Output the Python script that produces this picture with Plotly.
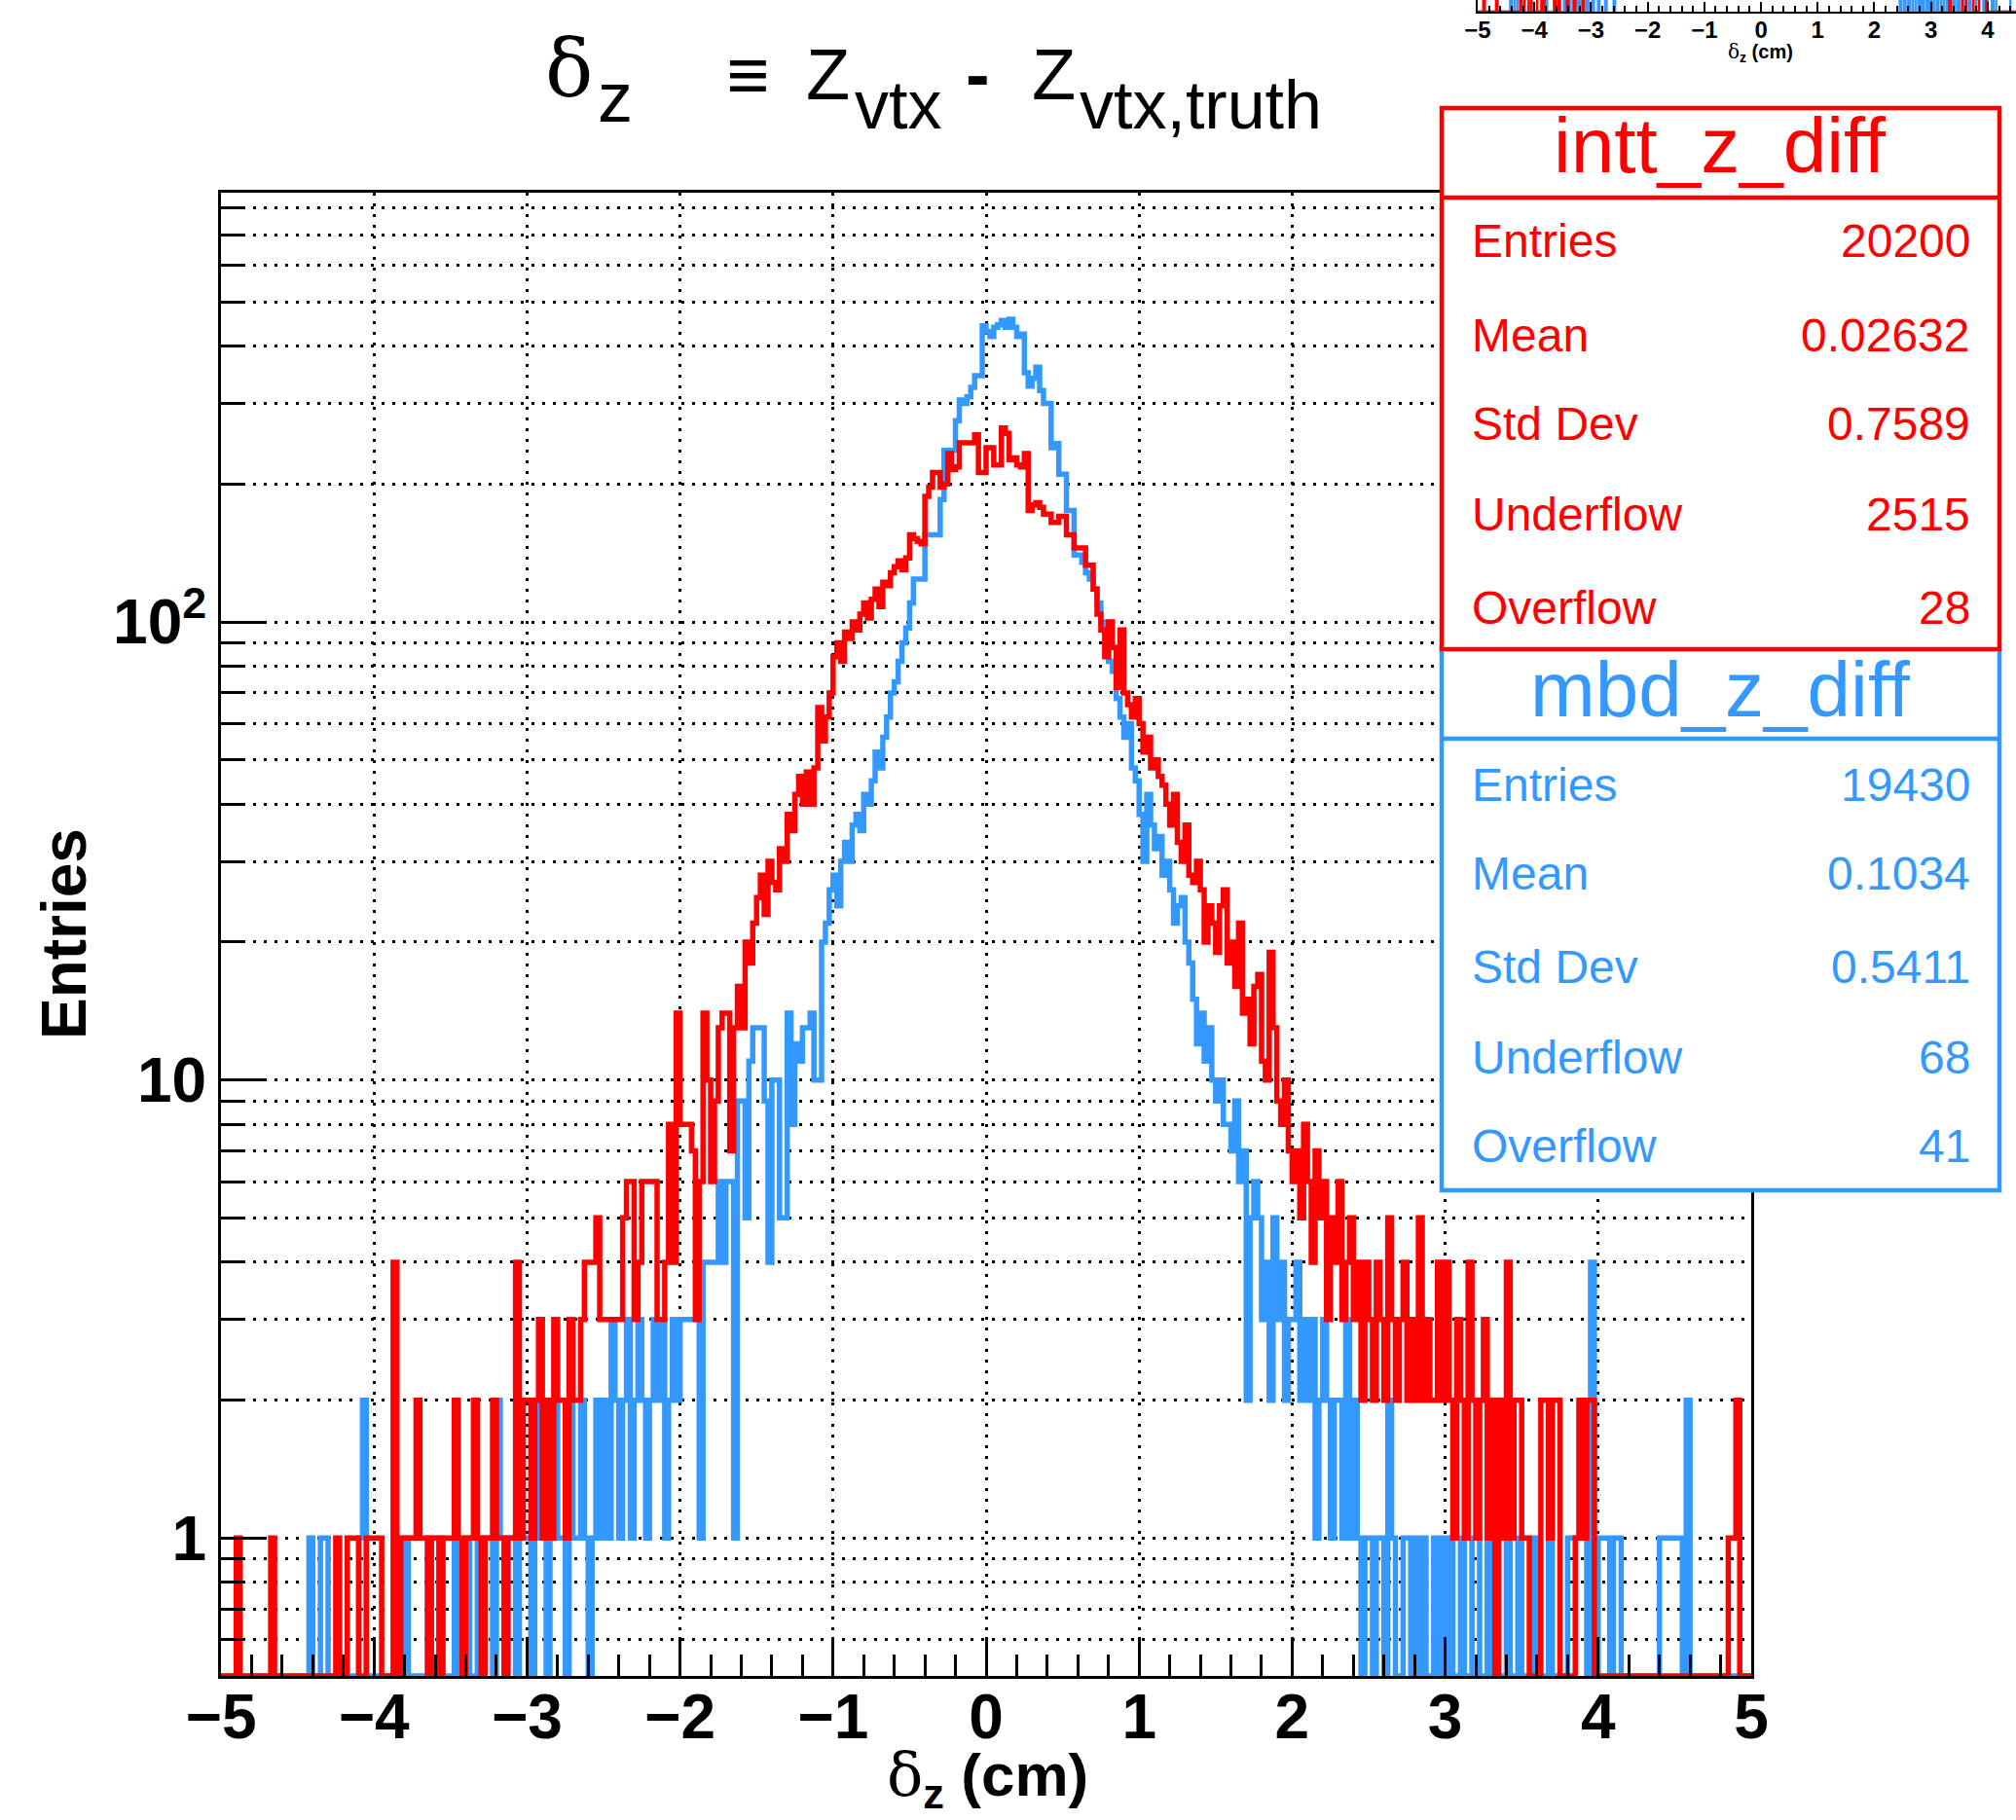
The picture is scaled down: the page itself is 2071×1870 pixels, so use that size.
import math
import plotly.graph_objects as go

# ---------------- data ----------------
NBINS = 400
X_MIN, X_MAX = -5.0, 5.0

# intt_z_diff bin contents (20 bins per 0.5 cm, from -5 to 5)
intt_counts = (
    [0,0,0,0,1,0,0,0,0,0,0,0,0,1,0,0,0,0,0,0] +          # -5.0 .. -4.5
    [0,0,0,0,0,0,0,0,0,0,1,0,0,1,1,1,0,0,1,1] +          # -4.5 .. -4.0
    [1,1,0,0,0,4,0,1,1,1,1,2,1,1,0,1,1,0,1,1] +          # -4.0 .. -3.5
    [1,2,1,0,1,1,2,1,0,1,1,2,1,1,0,1,1,4,1,2] +          # -3.5 .. -3.0
    [2,1,2,3,1,2,1,3,2,2,1,3,2,2,3,4,4,4,5,3] +          # -3.0 .. -2.5
    [3,3,3,3,3,5,6,6,3,4,6,6,6,6,3,3,4,8,4,14] +         # -2.5 .. -2.0
    [8,8,8,7,3,6,14,10,6,9,13,14,14,7,13,16,13,20,18,22] +   # -2.0 .. -1.5
    [25,28,23,30,27,26,32,30,38,35,42,46,40,47,40,48,65,55,62,70] +  # -1.5 .. -1.0
    [84,90,82,95,92,100,96,104,110,102,112,118,108,122,120,128,132,136,130,138] +
    [155,152,150,148,188,197,212,212,197,200,233,215,218,246,246,246,246,256,212,212] +
    [240,240,220,220,265,258,226,228,220,218,233,175,180,182,178,172,172,165,165,170] +
    [170,155,155,145,145,145,133,133,118,104,96,84,100,88,72,96,70,66,62,68] +
    [60,52,56,48,50,46,44,40,36,42,33,30,36,28,27,30,26,20,24,22] +
    [19,24,26,18,20,16,22,14,15,12,16,17,11,10,19,13,9,8,10,7] +
    [6,7,5,8,6,4,7,5,6,3,5,4,6,3,4,5,3,4,2,4] +
    [3,2,4,3,2,5,3,2,3,4,2,3,2,5,2,3,2,2,4,2] +
    [4,2,1,3,2,1,4,2,1,2,3,1,2,0,2,1,4,1,2,2] +
    [1,1,0,0,0,2,2,1,2,2,0,0,0,0,1,2,1,2,2,0] +
    [0,0,0,0,0,0,0,0,0,0,0,0,0,0,0,0,0,0,0,0] +
    [0,0,0,0,0,0,0,0,0,0,0,0,0,0,1,1,2,0,0,0]
)

# mbd_z_diff bin contents
mbd_counts = (
    [0,0,0,0,0,0,0,0,0,0,0,0,0,0,0,0,0,0,0,0] +
    [0,0,0,1,0,0,1,1,0,0,0,0,0,0,0,0,1,2,0,0] +
    [0,0,0,0,0,0,0,0,1,0,0,0,0,0,1,0,0,1,0,0] +
    [0,1,0,0,1,0,0,1,0,1,1,0,2,1,0,1,1,0,2,1] +
    [1,0,1,2,1,0,1,2,1,1,0,2,1,1,2,1,0,1,2,1] +
    [2,1,3,2,1,2,3,1,2,3,2,1,2,3,2,3,1,2,3,2] +
    [3,3,3,3,3,1,4,4,4,4,6,4,6,6,1,9,9,5,11,13] +
    [13,13,9,4,10,10,5,5,14,8,12,11,13,13,14,10,10,20,22,26] +
    [28,24,30,33,30,36,38,35,42,40,45,52,48,56,62,70,74,82,90,97] +
    [110,124,124,124,155,155,155,155,185,237,237,237,275,305,300,310,325,345,345,443] +
    [430,420,440,445,455,440,458,440,420,425,350,327,340,360,320,300,300,240,245,210] +
    [210,175,175,140,140,135,128,124,118,110,100,95,82,78,68,62,56,60,48,45] +
    [38,30,42,36,32,34,28,30,26,22,24,25,20,18,15,12,14,11,13,10] +
    [9,10,8,8,7,9,6,7,2,5,6,5,3,4,2,5,3,4,2,3] +
    [3,4,2,3,2,3,1,2,3,2,1,2,2,1,3,1,2,1,0,1] +
    [1,0,1,1,0,2,1,0,0,1,1,0,1,0,1,0,0,1,0,1] +
    [0,1,0,0,1,0,0,1,1,0,0,1,0,1,0,0,1,0,0,1] +
    [0,0,0,1,0,0,0,2,0,0,0,0,1,1,1,2,2,0,4,0] +
    [1,1,1,0,1,1,0,0,0,0,0,0,0,0,0,0,1,1,1,1] +
    [1,1,0,2,0,0,0,0,0,0,0,0,0,0,0,0,0,0,0,0]
)

intt_stats_labels = ["Entries", "Mean", "Std Dev", "Underflow", "Overflow"]
intt_stats_values = ["20200", "0.02632", "0.7589", "2515", "28"]
mbd_stats_labels = ["Entries", "Mean", "Std Dev", "Underflow", "Overflow"]
mbd_stats_values = ["19430", "0.1034", "0.5411", "68", "41"]

x_tick_vals = [-5, -4, -3, -2, -1, 0, 1, 2, 3, 4, 5]
y_tick_vals = [1, 10, 100]
y_tick_text = ["1", "10", "10<sup>2</sup>"]
y_minor_vals = [0.6, 0.7, 0.8, 0.9, 2, 3, 4, 5, 6, 7, 8, 9,
                20, 30, 40, 50, 60, 70, 80, 90, 200, 300, 400, 500, 600, 700, 800]
thumb_tick_vals = [-5, -4, -3, -2, -1, 0, 1, 2, 3, 4]

# ---------------- layout constants ----------------
W, H = 2071, 1870
RED = "#ff0000"
BLUE = "#3399ff"
FONT = "Liberation Sans, Arial, Helvetica, sans-serif"
SERIF = "DejaVu Serif, Liberation Serif, serif"
Y_MIN = 0.5
Y_MAX_LOG = 2.937

def px(x):
    return x / W

def py(y):
    return 1 - y / H

edges = [X_MIN + i * (X_MAX - X_MIN) / NBINS for i in range(NBINS + 1)]

def step(counts, floor):
    xs = [edges[0]]
    ys = [floor]
    for i, c in enumerate(counts):
        xs.append(edges[i])
        ys.append(c if c > 0 else floor)
    xs.append(edges[-1])
    ys.append(floor)
    return xs, ys

fig = go.Figure()

for counts, color in ((mbd_counts, BLUE), (intt_counts, RED)):
    xs, ys = step(counts, Y_MIN)
    fig.add_trace(go.Scatter(x=xs, y=ys, mode="lines", line=dict(color=color, width=5.5, shape="hv"),
                             xaxis="x", yaxis="y", showlegend=False, hoverinfo="skip"))

# thumbnail pad (partially visible, top right)
for counts, color in ((mbd_counts, BLUE), (intt_counts, RED)):
    xs, ys = step(counts, 0)
    fig.add_trace(go.Scatter(x=xs, y=ys, mode="lines", line=dict(color=color, width=2.5, shape="hv"),
                             xaxis="x2", yaxis="y2", showlegend=False, hoverinfo="skip"))

grid_dash = "3px,8px"

fig.update_layout(
    width=W, height=H,
    margin=dict(l=0, r=0, t=0, b=0, autoexpand=False),
    paper_bgcolor="white", plot_bgcolor="white",
    font=dict(family=FONT, color="black"),
    xaxis=dict(
        domain=[px(227), px(1799)], range=[X_MIN, X_MAX], automargin=False,
        tickmode="array", tickvals=x_tick_vals,
        ticks="inside", ticklen=40, tickwidth=2.5, tickcolor="black",
        tickfont=dict(family=FONT, size=64, weight="bold", color="black"),
        ticklabelstandoff=-16,
        showline=True, linecolor="black", linewidth=3, mirror=True,
        showgrid=True, gridcolor="black", gridwidth=3, griddash=grid_dash,
        zeroline=False,
        minor=dict(dtick=0.2, tick0=-5, ticks="inside", ticklen=22, tickwidth=2.5,
                   tickcolor="black", showgrid=False),
        anchor="y",
    ),
    yaxis=dict(
        domain=[py(1722), py(198)], type="log", range=[math.log10(Y_MIN), Y_MAX_LOG],
        automargin=False,
        tickmode="array", tickvals=y_tick_vals, ticktext=y_tick_text,
        ticks="inside", ticklen=47, tickwidth=2.5, tickcolor="black",
        tickfont=dict(family=FONT, size=64, weight="bold", color="black"),
        ticklabelstandoff=-1,
        showline=True, linecolor="black", linewidth=3, mirror=True,
        showgrid=True, gridcolor="black", gridwidth=3, griddash=grid_dash,
        zeroline=False,
        minor=dict(tickmode="array", tickvals=y_minor_vals, ticks="inside", ticklen=22,
                   tickwidth=2.5, tickcolor="black",
                   showgrid=True, gridcolor="black", gridwidth=3, griddash=grid_dash),
        anchor="x",
    ),
    xaxis2=dict(
        domain=[px(1518), 1.0], range=[-5, 4.5], anchor="y2", automargin=False,
        tickmode="array", tickvals=thumb_tick_vals,
        ticks="inside", ticklen=10, tickwidth=1.5, tickcolor="black",
        tickfont=dict(family=FONT, size=24, weight="bold", color="black"),
        ticklabelstandoff=-4,
        showline=True, linecolor="black", linewidth=2,
        showgrid=False, zeroline=False,
        minor=dict(dtick=0.2, tick0=-5, ticks="inside", ticklen=6, tickwidth=1.5,
                   tickcolor="black", showgrid=False),
    ),
    yaxis2=dict(
        domain=[py(12), 1.0], range=[0, 0.9], anchor="x2", automargin=False,
        showticklabels=False, ticks="", showgrid=False, zeroline=False,
        showline=True, linecolor="black", linewidth=2,
    ),
)

annotations = []

def txt(x, y, text, size, family=FONT, weight="normal", xanchor="left", color="black", angle=0):
    annotations.append(dict(
        x=px(x), y=py(y), xref="paper", yref="paper", xanchor=xanchor, yanchor="middle",
        text=text, showarrow=False, textangle=angle,
        font=dict(family=family, size=size, weight=weight, color=color)))

# Main title pieces (ROOT TLatex: subscripts almost as large as the main text)
txt(558, 70, "δ", 82, family=SERIF)
txt(612, 100, "z", 72)
txt(744, 77, "≡", 76, weight="bold")
txt(826, 77, "Z", 74)
txt(876, 108, "vtx", 70)
txt(990, 77, "-", 74, weight="bold")
txt(1058, 77, "Z", 74)
txt(1107, 108, "vtx,truth", 70)

# axis titles
txt(1014, 1827,
    "<span style='font-family:DejaVu Serif;font-weight:normal'>δ</span><sub>z</sub> (cm)",
    62, weight="bold", xanchor="center")
txt(66, 960, "Entries", 64, weight="bold", xanchor="center", angle=-90)
# thumbnail axis title
txt(1808, 54,
    "<span style='font-family:DejaVu Serif;font-weight:normal'>δ</span><sub>z</sub> (cm)",
    20, weight="bold", xanchor="center")

shapes = []

def stat_box(top, sep, bottom, color, title, labels, values, title_y, row_ys):
    shapes.append(dict(type="rect", xref="paper", yref="paper",
                       x0=px(1481), x1=px(2054), y0=py(bottom), y1=py(top),
                       line=dict(color=color, width=4.5), fillcolor="white", layer="above"))
    shapes.append(dict(type="line", xref="paper", yref="paper",
                       x0=px(1481), x1=px(2054), y0=py(sep), y1=py(sep),
                       line=dict(color=color, width=4.5), layer="above"))
    txt(1767, title_y, title, 80, xanchor="center", color=color)
    for lab, val, yy in zip(labels, values, row_ys):
        txt(1510, yy, lab, 48, color=color)
        txt(2026, yy, val, 48, xanchor="right", color=color)

stat_box(666, 759, 1223, BLUE, "mbd_z_diff", mbd_stats_labels, mbd_stats_values,
         708, [806, 897, 993, 1086, 1177])
stat_box(111, 203, 667, RED, "intt_z_diff", intt_stats_labels, intt_stats_values,
         150, [248, 344, 435, 528, 624])

fig.update_layout(annotations=annotations, shapes=shapes)

fig.write_html("out.html", config={"displayModeBar": False},
               post_script="document.body.style.margin='0px';")
